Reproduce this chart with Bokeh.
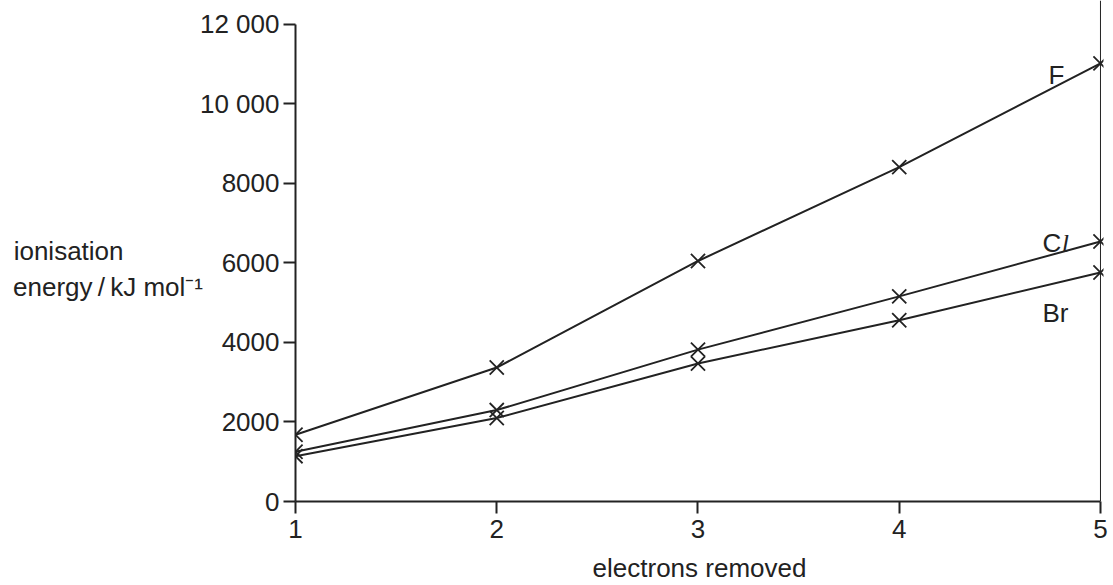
from bokeh.plotting import figure
from bokeh.models import Range1d, FixedTicker, Span, Label
from bokeh.embed import file_html
from bokeh.resources import INLINE

electrons = [1, 2, 3, 4, 5]
ie_F = [1680, 3370, 6050, 8410, 11020]
ie_Cl = [1250, 2300, 3820, 5160, 6540]
ie_Br = [1140, 2100, 3470, 4560, 5760]
y_ticks = [0, 2000, 4000, 6000, 8000, 10000, 12000]
y_tick_labels = {0: "0", 2000: "2000", 4000: "4000", 6000: "6000", 8000: "8000",
                 10000: "10 000", 12000: "12 000"}
x_ticks = [1, 2, 3, 4, 5]

INK = "#222222"
FONT = "Liberation Sans"

p = figure(width=1113, height=585, output_backend="svg", toolbar_location=None,
           x_range=Range1d(1, 5.015), y_range=Range1d(0, 12602),
           min_border_left=295, min_border_right=10, min_border_top=0, min_border_bottom=83)
p.outline_line_color = None
p.xgrid.visible = False
p.ygrid.visible = False
p.background_fill_color = "white"
p.border_fill_color = "white"

for ax in (p.xaxis[0], p.yaxis[0]):
    ax.axis_line_width = 2
    ax.axis_line_color = INK
    ax.major_tick_line_width = 2
    ax.major_tick_line_color = INK
    ax.major_tick_out = 12
    ax.major_tick_in = 0
    ax.minor_tick_line_color = None
    ax.major_label_text_font = FONT
    ax.major_label_text_font_size = "26px"
    ax.major_label_text_color = INK
    ax.axis_label_text_font = FONT
    ax.axis_label_text_font_style = "normal"
    ax.axis_label_text_font_size = "26px"
    ax.axis_label_text_color = INK

p.yaxis.ticker = FixedTicker(ticks=y_ticks)
p.yaxis.major_label_overrides = y_tick_labels
p.yaxis.bounds = (0, 12000)
p.yaxis.major_label_standoff = 4
p.yaxis.axis_label = ("\nionisation" + "\u00a0" * 11 +
                      "\nenergy\u2009/\u2009kJ mol\u207b\u00b9")
p.yaxis.axis_label_orientation = "horizontal"
p.yaxis.axis_label_standoff = -6

p.xaxis.ticker = FixedTicker(ticks=x_ticks)
p.xaxis.bounds = (1, 5)
p.xaxis.major_label_standoff = 6
p.xaxis.axis_label = "electrons removed"
p.xaxis.axis_label_standoff = 12

p.add_layout(Span(location=5, dimension="height", line_color=INK, line_width=1))

for series in (ie_F, ie_Cl, ie_Br):
    p.line(electrons, series, line_color=INK, line_width=2)
    p.scatter(electrons, series, marker="x", size=20, line_color=INK, line_width=1.8)

def lab(x, y, text, size="26px", style="normal", font=FONT):
    p.add_layout(Label(x=x, y=y, text=text, text_font=font, text_font_size=size,
                       text_font_style=style, text_color=INK,
                       text_align="left", text_baseline="alphabetic"))

lab(4.7416, 10720, "F")
lab(4.7118, 6502, "C")
lab(4.808, 6502, "l", style="italic", font="Liberation Serif")
lab(4.7118, 4745, "Br")

open("out.html", "w").write(file_html(p, INLINE))
